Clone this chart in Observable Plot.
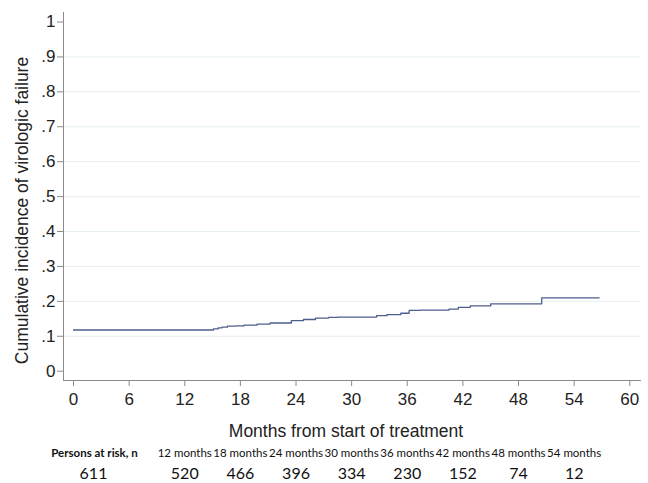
<!DOCTYPE html>
<html><head><meta charset="utf-8">
<script src="https://cdn.jsdelivr.net/npm/d3@7"></script>
<script src="https://cdn.jsdelivr.net/npm/@observablehq/plot@0.6"></script>
<style>body{margin:0;background:#fff} svg{display:block}</style>
</head><body><div id="chart"></div>
<script>
// Step curve: cumulative incidence of virologic failure
const months    = [0, 15.1, 15.6, 16.0, 16.6, 17.5, 18.4, 19.8, 21.2, 23.5, 24.8, 26.1, 27.5, 28.5, 32.7, 33.8, 35.3, 36.2, 37.4, 40.5, 41.5, 42.8, 45.0, 50.5, 56.7];
const incidence = [0.118, 0.121, 0.124, 0.126, 0.129, 0.130, 0.132, 0.135, 0.138, 0.145, 0.148, 0.152, 0.154, 0.155, 0.159, 0.162, 0.166, 0.174, 0.175, 0.178, 0.183, 0.187, 0.193, 0.210, 0.210];

const xTicks = [0, 6, 12, 18, 24, 30, 36, 42, 48, 54, 60];
const yTicks = [0, 0.1, 0.2, 0.3, 0.4, 0.5, 0.6, 0.7, 0.8, 0.9, 1];
const yTickLabels = ["0", ".1", ".2", ".3", ".4", ".5", ".6", ".7", ".8", ".9", "1"];

// Persons at risk table
const riskMonths  = [0, 12, 18, 24, 30, 36, 42, 48, 54];
const riskHeaders = ["Persons at risk, n", "12 months", "18 months", "24 months", "30 months", "36 months", "42 months", "48 months", "54 months"];
const riskCounts  = [611, 520, 466, 396, 334, 230, 152, 74, 12];

const xTitle = "Months from start of treatment";
const yTitle = "Cumulative incidence of virologic failure";

const curve = months.map((m, i) => ({month: m, value: incidence[i]}));
const risk = riskMonths.map((m, i) => ({month: m, header: riskHeaders[i], count: riskCounts[i]}));
const riskFirst = risk.slice(0, 1);
const riskRest = risk.slice(1);

const axisGray = "#8a8a8a";
const tableFont = "Lato, 'Open Sans', sans-serif";

const chart = Plot.plot({
  width: 648, height: 483,
  marginLeft: 63, marginRight: 8, marginTop: 12, marginBottom: 103,
  insetLeft: 10, insetRight: 10.7, insetTop: 9.5, insetBottom: 9.3,
  style: {fontFamily: "'Liberation Sans', Arial, sans-serif", background: "#fff", color: "#222"},
  x: {domain: [0, 60]},
  y: {domain: [0, 1]},
  marks: [
    Plot.gridY(yTicks.filter(d => d > 0 && d < 1), {stroke: "#e6efef", strokeOpacity: 1}),
    Plot.frame({anchor: "left", stroke: axisGray}),
    Plot.frame({anchor: "bottom", stroke: axisGray}),
    Plot.axisY({ticks: yTicks, tickSize: 6, tickPadding: 2, fontSize: 17, label: null,
      stroke: axisGray, fill: "#222",
      tickFormat: d => yTickLabels[yTicks.findIndex(t => Math.abs(t - d) < 1e-9)]}),
    Plot.axisX({ticks: xTicks, tickSize: 6, tickPadding: 6, fontSize: 17, label: null,
      stroke: axisGray, fill: "#222"}),
    Plot.line(curve, {x: "month", y: "value", curve: "step-after", stroke: "#4f5e8e", strokeWidth: 1.3}),
    Plot.text([yTitle], {frameAnchor: "left", textAnchor: "middle", lineAnchor: "middle", rotate: -90,
      dx: -41, dy: 14, fontSize: 17.5, fill: "#222"}),
    Plot.text([xTitle], {frameAnchor: "bottom", textAnchor: "middle", lineAnchor: "middle",
      dy: 51, dx: -6, fontSize: 17.5, fill: "#222"}),
    Plot.text(riskFirst, {x: "month", text: "header", frameAnchor: "bottom", lineAnchor: "middle", dy: 73, dx: 21,
      fontSize: 11.5, fontWeight: "bold", fontFamily: tableFont, fill: "#111"}),
    Plot.text(riskRest, {x: "month", text: "header", frameAnchor: "bottom", lineAnchor: "middle", dy: 73,
      fontSize: 11.5, fontFamily: tableFont, fill: "#111"}),
    Plot.text(riskFirst, {x: "month", text: d => String(d.count), frameAnchor: "bottom", lineAnchor: "middle", dy: 93, dx: 20,
      fontSize: 16, fontFamily: tableFont, fill: "#111"}),
    Plot.text(riskRest, {x: "month", text: d => String(d.count), frameAnchor: "bottom", lineAnchor: "middle", dy: 93,
      fontSize: 16, fontFamily: tableFont, fill: "#111"})
  ]
});
document.getElementById("chart").append(chart);
</script>
</body></html>
